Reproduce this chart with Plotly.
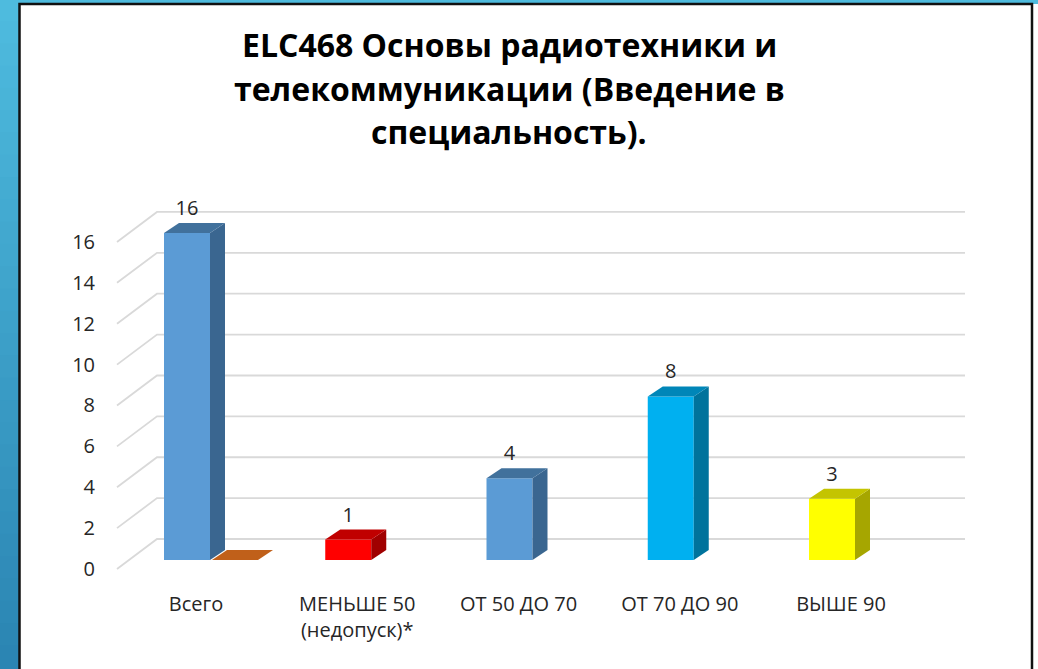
import plotly.graph_objects as go

# data
categories = ["Всего", "МЕНЬШЕ 50<br>(недопуск)*", "ОТ 50 ДО 70", "ОТ 70 ДО 90", "ВЫШЕ 90"]
values = [16, 1, 4, 8, 3]
extra_series = [0]          # second (orange) series, only present for "Всего"
y_ticks = [0, 2, 4, 6, 8, 10, 12, 14, 16]
title_lines = ["ELC468 Основы радиотехники и", "телекоммуникации (Введение в", "специальность)."]

front_colors = ["#5b9bd5", "#ff0000", "#5b9bd5", "#00b0f0", "#ffff00"]
top_colors = ["#41719c", "#c00000", "#41719c", "#0086b8", "#c4c400"]
side_colors = ["#3a6690", "#a00000", "#3a6690", "#00739c", "#a6a600"]

W, H = 1038, 669
# pixel geometry of the 3D projection
X0, DX = 187, 161.25      # px of first category, px per category
Y0, DY = 560, 20.44       # px of value 0 at bar plane, px per unit


def px_x(p):
    return (p - X0) / DX


def px_dy(p):
    return p / DY


bar_w = px_x(X0 + 46)
ddx, ddy = 15 / DX, px_dy(10)

fig = go.Figure()

# background: blue strips and white panel
shapes = []
n = 30
c_top, c_bot = (78, 187, 222), (43, 133, 179)
for k in range(n):
    t = k / (n - 1)
    c = tuple(round(a + (b - a) * t) for a, b in zip(c_top, c_bot))
    shapes.append(dict(type="rect", xref="paper", yref="paper", layer="below",
                       x0=0, x1=19 / W, y0=1 - (k + 1) / n, y1=1 - k / n + 0.002,
                       fillcolor="rgb(%d,%d,%d)" % c, line=dict(width=0)))
shapes.append(dict(type="rect", xref="paper", yref="paper", layer="below",
                   x0=0, x1=1, y0=1 - 4 / H, y1=1,
                   fillcolor="rgb(78,187,222)", line=dict(width=0)))
shapes.append(dict(type="rect", xref="paper", yref="paper", layer="below",
                   x0=19.5 / W, x1=1032 / W, y0=-0.05, y1=1 - 4 / H,
                   fillcolor="white", line=dict(color="#111111", width=2.5)))

# back wall gridlines + left-wall diagonals (below the bars)
x_fl, x_bl, x_br = px_x(117), px_x(157), px_x(965)
back_up, front_down = px_dy(21), px_dy(9)
for v in y_ticks:
    shapes.append(dict(type="path", xref="x", yref="y", layer="below",
                       path="M %f,%f L %f,%f L %f,%f" % (
                           x_fl, v - front_down, x_bl, v + back_up, x_br, v + back_up),
                       line=dict(color="#d9d9d9", width=1.8)))

# orange flat bar (value 0) next to "Всего"
ox = px_x(X0 + 48)
for v in extra_series:
    fig.add_trace(go.Scatter(
        x=[ox - bar_w / 2, ox - bar_w / 2 + ddx, ox + bar_w / 2 + ddx, ox + bar_w / 2, ox - bar_w / 2],
        y=[v, v + ddy, v + ddy, v, v],
        fill="toself", fillcolor="#c0601a", mode="lines", line=dict(width=0),
        hoverinfo="skip", showlegend=False))

# front faces
fig.add_trace(go.Bar(
    x=list(range(len(values))), y=values, width=bar_w,
    marker=dict(color=front_colors, line=dict(width=0)),
    hoverinfo="skip", showlegend=False))

# side and top faces
for i, v in enumerate(values):
    r = i + bar_w / 2
    l = i - bar_w / 2
    fig.add_trace(go.Scatter(
        x=[r, r + ddx, r + ddx, r, r], y=[0, ddy, v + ddy, v, 0],
        fill="toself", fillcolor=side_colors[i], mode="lines", line=dict(width=0),
        hoverinfo="skip", showlegend=False))
    fig.add_trace(go.Scatter(
        x=[l, l + ddx, r + ddx, r, l], y=[v, v + ddy, v + ddy, v, v],
        fill="toself", fillcolor=top_colors[i], mode="lines", line=dict(width=0),
        hoverinfo="skip", showlegend=False))

# data labels
fig.add_trace(go.Scatter(
    x=list(range(len(values))), y=[v + ddy + px_dy(3) for v in values],
    mode="text", text=[str(v) for v in values], textposition="top center",
    textfont=dict(size=20, color="#262626", family="Open Sans"),
    hoverinfo="skip", showlegend=False))

# invisible trace for the tick axis
fig.add_trace(go.Scatter(x=[0], y=[0], yaxis="y2", mode="markers",
                         marker=dict(opacity=0), hoverinfo="skip", showlegend=False))

annotations = []
for k, line in enumerate(title_lines):
    annotations.append(dict(text="<b>%s</b>" % line, xref="paper", yref="paper",
                            x=509 / W, y=1 - (45 + 43 * k) / H, showarrow=False,
                            xanchor="center", yanchor="middle",
                            font=dict(size=32, color="#000000", family="Open Sans")))

fig.update_layout(
    width=W, height=H,
    margin=dict(l=0, r=0, t=0, b=0, pad=0),
    paper_bgcolor="white", plot_bgcolor="rgba(0,0,0,0)",
    shapes=shapes, annotations=annotations,
    xaxis=dict(range=[px_x(0), px_x(W)], anchor="free", position=(H - 590) / H,
               tickvals=list(range(len(categories))), ticktext=categories,
               ticklabelshift=9, showgrid=False, zeroline=False, showline=False,
               ticks="", tickfont=dict(size=20, color="#262626", family="Open Sans")),
    yaxis=dict(range=[px_dy(Y0 - H), px_dy(Y0)], visible=False),
    yaxis2=dict(range=[px_dy(Y0 + 9 - H), px_dy(Y0 + 9)], overlaying="y",
                anchor="free", position=95 / W, tickvals=y_ticks,
                showgrid=False, zeroline=False, showline=False, ticks="",
                tickfont=dict(size=20, color="#262626", family="Open Sans")),
)

fig.write_html("out.html", config={"displayModeBar": False},
               post_script="document.body.style.margin='0';")
